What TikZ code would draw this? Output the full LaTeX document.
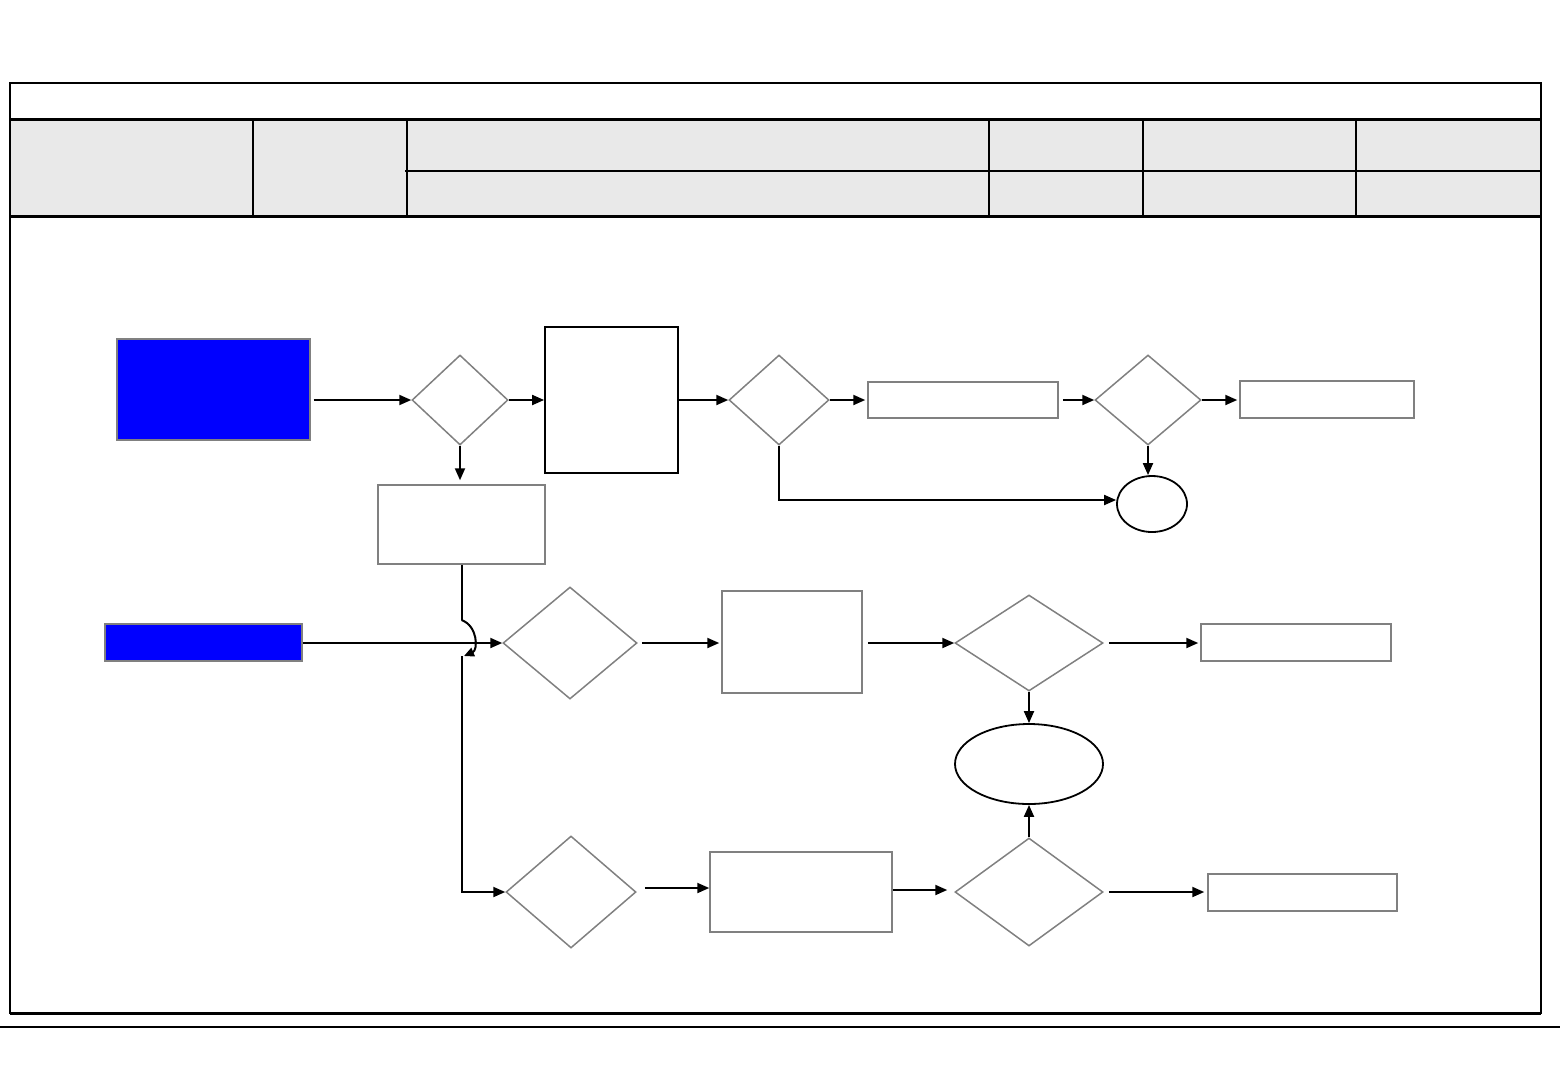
\documentclass[tikz,border=0pt]{standalone}
\usetikzlibrary{shapes.geometric,arrows.meta}
\definecolor{hdr}{HTML}{E9E9E9}
\definecolor{edge}{HTML}{808080}
\begin{document}
\begin{tikzpicture}[x=1pt,y=-1pt,
  gbox/.style={draw=edge,line width=1.5pt,fill=white,inner sep=0pt,rectangle},
  bbox/.style={draw=edge,line width=1.2pt,fill=blue,inner sep=0pt,rectangle},
  kbox/.style={draw=black,line width=1.8pt,fill=white,inner sep=0pt,rectangle},
  dia/.style={draw=edge,line width=1.5pt,diamond,inner sep=0pt},
  ell/.style={draw=black,line width=1.8pt,ellipse,inner sep=0pt},
  arr/.style={draw=black,line width=2pt,-{Triangle[length=12pt,width=10pt]}},
  ln/.style={draw=black,line width=2pt}]
\useasboundingbox (0,0) rectangle (1560,1080);
% frame and header
\fill[hdr] (10,119) rectangle (1541,216);
\draw[line width=2pt] (10,83) rectangle (1541,1013);
\draw[line width=3pt] (10,1013) -- (1541,1013);
\draw[line width=3pt] (10,119) -- (1541,119);
\draw[line width=3pt] (10,216) -- (1541,216);
\foreach \x in {253,407,989,1143,1356} \draw[line width=2.5pt] (\x,119) -- (\x,216);
\draw[line width=2.5pt] (405,171) -- (1541,171);
\draw[line width=1.5pt] (0,1027) -- (1560,1027);
% nodes (top flow)
\node[bbox,minimum width=193pt,minimum height=101pt] (b1) at (213.5,389.5) {};
\node[dia,minimum width=96pt,minimum height=90pt] (d1) at (460,400) {};
\node[kbox,minimum width=133pt,minimum height=146pt] (b2) at (611.5,400) {};
\node[dia,minimum width=100pt,minimum height=90pt] (d2) at (779,400) {};
\node[gbox,minimum width=190pt,minimum height=36pt] (b3) at (963,400) {};
\node[dia,minimum width=106pt,minimum height=90pt] (d3) at (1148,400) {};
\node[gbox,minimum width=174pt,minimum height=37pt] (b4) at (1327,399.5) {};
\node[ell,minimum width=70pt,minimum height=56pt] (e1) at (1152,504) {};
\node[gbox,minimum width=167pt,minimum height=79pt] (b5) at (461.5,524.5) {};
% middle flow
\node[bbox,minimum width=197pt,minimum height=37pt] (b6) at (203.5,642.5) {};
\node[dia,minimum width=134pt,minimum height=112pt] (d4) at (570,643) {};
\node[gbox,minimum width=140pt,minimum height=102pt] (b7) at (792,642) {};
\node[dia,minimum width=148pt,minimum height=96pt] (d5) at (1029,643) {};
\node[gbox,minimum width=190pt,minimum height=37pt] (b8) at (1296,642.5) {};
\node[ell,minimum width=148pt,minimum height=80pt] (e2) at (1029,764) {};
% bottom flow
\node[dia,minimum width=130pt,minimum height=112pt] (d7) at (571,892) {};
\node[gbox,minimum width=182pt,minimum height=80pt] (b9) at (801,892) {};
\node[dia,minimum width=148pt,minimum height=108pt] (d6) at (1029,892) {};
\node[gbox,minimum width=189pt,minimum height=37pt] (b10) at (1302.5,892.5) {};
% connectors
\draw[arr,shorten <=3pt] (b1.east |- d1.west) -- (d1.west);
\draw[arr] (d1.east) -- (b2.west |- d1.east);
\draw[arr] (b2.east) -- (d2.west);
\draw[arr,shorten >=2pt] (d2.east) -- (b3.west);
\draw[arr,shorten <=4pt] (b3.east) -- (d3.west);
\draw[arr,shorten >=2pt] (d3.east) -- (b4.west |- d3.east);
\draw[arr] (d3.south) -- (d3.south |- e1.north);
\draw[arr] (d2.south) |- ([yshift=4pt]e1.west);
\draw[arr,shorten >=4pt] (d1.south) -- (d1.south |- b5.north);
\coordinate (j1) at (461.5,620);
\coordinate (j2) at (461.5,656);
\coordinate (j3) at (461.5,892);
\draw[ln] (b5.south) -- (j1);
\draw[draw=black,line width=2pt,-{Triangle[length=10pt,width=9pt]}] (j1) .. controls (478,626) and (478,650) .. (464,656);
\draw[arr] (b6.east |- d4.west) -- (d4.west);
\draw[arr] (j2) -- (j3) -- (d7.west);
\draw[arr,shorten <=4pt,shorten >=2pt] (d4.east) -- (b7.west |- d4.east);
\draw[arr,shorten <=5pt] (b7.east |- d5.west) -- (d5.west);
\draw[arr,shorten <=5pt,shorten >=2pt] (d5.east) -- (b8.west |- d5.east);
\draw[arr] (d5.south) -- (e2.north);
\draw[arr] (d6.north) -- (e2.south);
\draw[arr,shorten <=8pt] (d7.east |- 0,888) -- (b9.west |- 0,888);
\draw[arr,shorten >=7pt] (b9.east |- 0,890) -- (d6.west |- 0,890);
\draw[arr,shorten <=5pt,shorten >=3pt] (d6.east) -- (b10.west |- d6.east);
\end{tikzpicture}
\end{document}
